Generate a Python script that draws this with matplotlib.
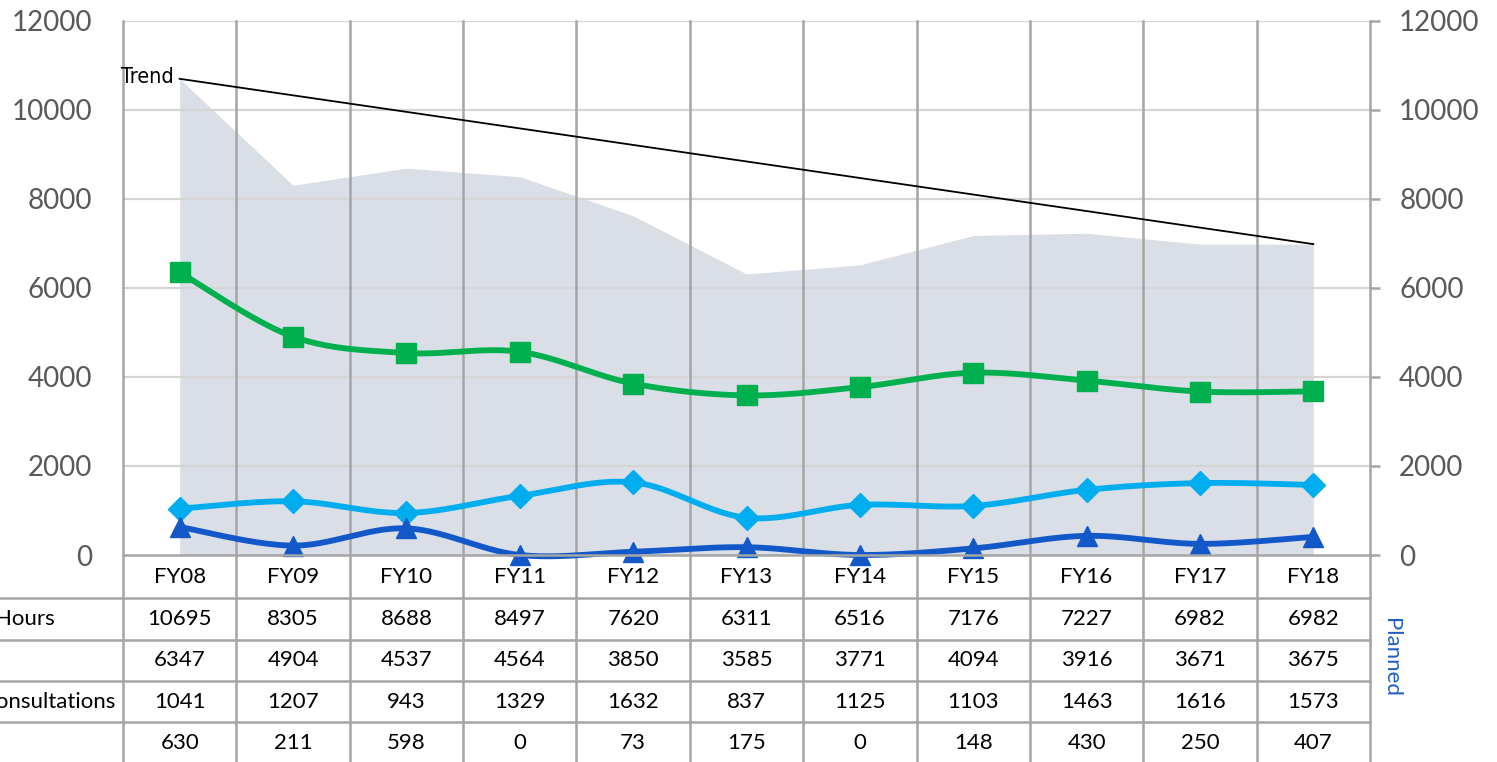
import numpy as np
import matplotlib
matplotlib.use("Agg")
import matplotlib.pyplot as plt
from matplotlib.transforms import blended_transform_factory

plt.rcParams['font.family'] = ['Lato', 'DejaVu Sans']

categories = ["FY08", "FY09", "FY10", "FY11", "FY12", "FY13", "FY14", "FY15", "FY16", "FY17", "FY18"]
hours = [10695, 8305, 8688, 8497, 7620, 6311, 6516, 7176, 7227, 6982, 6982]
series2 = [6347, 4904, 4537, 4564, 3850, 3585, 3771, 4094, 3916, 3671, 3675]
consultations = [1041, 1207, 943, 1329, 1632, 837, 1125, 1103, 1463, 1616, 1573]
series4 = [630, 211, 598, 0, 73, 175, 0, 148, 430, 250, 407]
row_labels = ["Hours", "", "Consultations", ""]
yticks = [0, 2000, 4000, 6000, 8000, 10000, 12000]

W, H = 1497, 762
fig = plt.figure(figsize=(W / 100, H / 100), dpi=100)

def fx(px):
    return px / W

def fy(py):
    return 1 - py / H

ax_left, ax_right = 123, 1370
ax_top, ax_bot = 20.7, 555
ax = fig.add_axes([fx(ax_left), fy(ax_bot), fx(ax_right - ax_left), (ax_bot - ax_top) / H])
n = len(categories)
x = np.arange(n)
ax.set_xlim(-0.5, n - 0.5)
ax.set_ylim(0, 12000)
for s in ax.spines.values():
    s.set_visible(False)

def smooth(xs, ys, steps=40):
    xs = np.asarray(xs, float); ys = np.asarray(ys, float)
    P = np.column_stack([xs, ys])
    out = []
    m = len(P)
    t = np.linspace(0, 1, steps)[:, None]
    for i in range(m - 1):
        p0, p3 = P[i], P[i + 1]
        pm = P[i - 1] if i > 0 else P[i]
        pn = P[i + 2] if i + 2 < m else P[i + 1]
        c1 = p0 + (p3 - pm) / 6
        c2 = p3 - (pn - p0) / 6
        seg = (1 - t) ** 3 * p0 + 3 * (1 - t) ** 2 * t * c1 + 3 * (1 - t) * t ** 2 * c2 + t ** 3 * p3
        out.append(seg if i == 0 else seg[1:])
    seg = np.vstack(out)
    return seg[:, 0], seg[:, 1]

# area
ax.fill_between(x, 0, hours, color="#D9DEE7", lw=0, zorder=1)

# grid
for v in yticks[1:]:
    ax.axhline(v, color="#D5D5D5", lw=1.6, zorder=2)
trans = blended_transform_factory(ax.transData, fig.transFigure)
for b in np.arange(-0.5, n, 1.0):
    ax.plot([b, b], [0, fy(ax_top)], transform=trans, color="#A5A5A5", lw=1.8,
            clip_on=False, zorder=2)

# trend
ax.plot([x[0], x[-1]], [hours[0], hours[-1]], color="black", lw=1.3, zorder=3)
ax.text(x[0] - 0.05, hours[0] + 40, "Trend", ha="right", va="center", fontsize=15.5,
        family="DejaVu Sans", fontstretch="condensed", color="black", zorder=3)

# lines
specs = [(series2, "#00B04F", "s", 14), (consultations, "#00AEEF", "D", 12.5), (series4, "#1258C8", "^", 14)]
for data, col, mk, ms in specs:
    sx, sy = smooth(x, data)
    ax.plot(sx, sy, color=col, lw=4.2, zorder=4, clip_on=False, solid_capstyle="round")
    ax.plot(x, data, ls="none", marker=mk, ms=ms, color=col, mec=col, zorder=5, clip_on=False)

# x-axis line
ax.plot([-0.5, n - 0.5], [0, 0], color="#A5A5A5", lw=1.8, zorder=6, clip_on=False)

# left axis
ax.set_xticks([])
ax.set_yticks(yticks)
ax.set_yticklabels([str(v) for v in yticks])
ax.tick_params(axis="y", length=0, pad=22, labelsize=20, labelcolor="#595959")

# right axis
ax2 = ax.twinx()
ax2.set_ylim(0, 12000)
for s in ax2.spines.values():
    s.set_visible(False)
ax2.set_yticks(yticks)
ax2.set_yticklabels([str(v) for v in yticks])
ax2.tick_params(axis="y", length=7, width=1.8, color="#A5A5A5", pad=14, labelsize=20,
                labelcolor="#595959")

# table
row_lines = [598, 640, 681, 722]
for r in row_lines:
    fig.add_artist(plt.Line2D([0, fx(ax_right)], [fy(r), fy(r)], color="#A5A5A5", lw=1.8))
row_centers = [577, 619, 660, 702, 743]
for i, c in enumerate(categories):
    ax.text(x[i], fy(row_centers[0]), c, transform=trans, ha="center", va="center", fontsize=16, color="black")
for ri, data in enumerate([hours, series2, consultations, series4]):
    for i, v in enumerate(data):
        ax.text(x[i], fy(row_centers[ri + 1]), str(v), transform=trans, ha="center", va="center",
                fontsize=16, color="black")
label_right = [55, 0, 115, 0]
for ri, lab in enumerate(row_labels):
    if lab:
        fig.text(fx(label_right[ri]), fy(row_centers[ri + 1]), lab, ha="right", va="center",
                 fontsize=16, color="black")

fig.text(fx(1391), fy(657), "Planned", rotation=270, ha="center", va="center", fontsize=16, color="#1F5FC8")

fig.savefig("out.png", dpi=100, facecolor="white")
